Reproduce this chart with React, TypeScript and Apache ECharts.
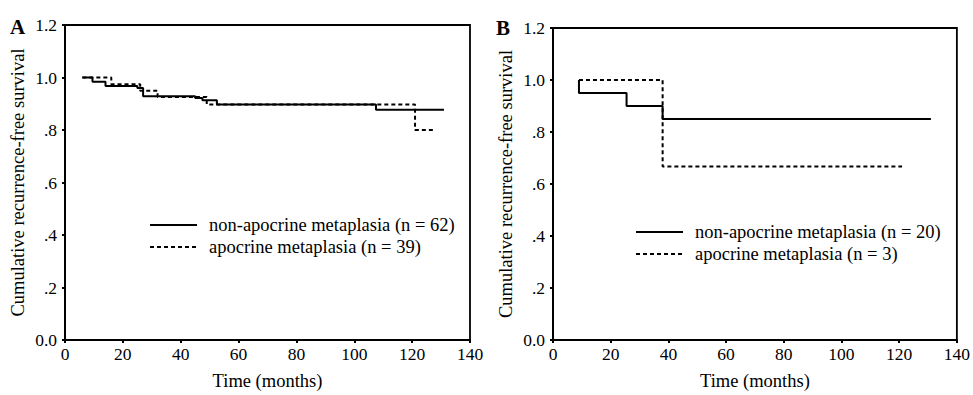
import { useEffect, useRef } from "react";
import * as echarts from "echarts";

// Kaplan–Meier curves: [time in months, cumulative recurrence-free survival]
const nonApocrineA: [number, number][] = [
  [6, 1.0], [9.5, 0.984], [14, 0.968], [25, 0.96], [27, 0.929], [45, 0.922],
  [47.5, 0.913], [52.5, 0.897], [107.5, 0.877], [131, 0.877],
];
const apocrineA: [number, number][] = [
  [6, 1.0], [16, 0.974], [26, 0.95], [32, 0.926], [49, 0.897], [121, 0.8], [128, 0.8],
];
const nonApocrineB: [number, number][] = [
  [9, 1.0], [9, 0.95], [25.5, 0.9], [38, 0.85], [131, 0.85],
];
const apocrineB: [number, number][] = [
  [9, 1.0], [38, 0.667], [121, 0.667],
];

const legendA = ["non-apocrine metaplasia (n = 62)", "apocrine metaplasia (n = 39)"];
const legendB = ["non-apocrine metaplasia (n = 20)", "apocrine metaplasia (n = 3)"];
const panelLetters = ["A", "B"];
const xTitle = "Time (months)";
const yTitle = "Cumulative recurrence-free survival";

const INK = "#000";
const FONT = '"Liberation Serif", "Times New Roman", serif';
const DASH = [4, 3];

function survivalLabel(v: number): string {
  if (v === 0) return "0.0";
  const s = v.toFixed(1);
  return v < 1 ? s.replace(/^0/, "") : s;
}

const grids = [
  { left: 65, top: 25, width: 405, height: 318 },
  { left: 553, top: 28, width: 405, height: 316 },
];

export default function App() {
  const ref = useRef<HTMLDivElement>(null);

  useEffect(() => {
    if (!ref.current) return;
    const chart = echarts.init(ref.current, null, { renderer: "svg" });

    const xAxes = grids.map((_, i) => ({
      type: "value" as const,
      gridIndex: i,
      min: 0,
      max: 140,
      interval: 20,
      name: xTitle,
      nameLocation: "middle" as const,
      nameGap: 31,
      nameTextStyle: { fontFamily: FONT, fontSize: 18.5, color: INK },
      axisLine: { show: true, lineStyle: { color: INK, width: 2 } },
      axisTick: { show: true, inside: false, length: 3, lineStyle: { color: INK, width: 2 } },
      axisLabel: { margin: 5, fontFamily: FONT, fontSize: 17.5, color: INK },
      splitLine: { show: false },
    }));

    const yAxes = grids.map((_, i) => ({
      type: "value" as const,
      gridIndex: i,
      min: 0,
      max: 1.2,
      interval: 0.2,
      name: yTitle,
      nameLocation: "middle" as const,
      nameGap: 38,
      nameTextStyle: { fontFamily: FONT, fontSize: 18.5, color: INK },
      axisLine: { show: true, lineStyle: { color: INK, width: 2 } },
      axisTick: { show: true, inside: false, length: 3, lineStyle: { color: INK, width: 2 } },
      axisLabel: { margin: 8, fontFamily: FONT, fontSize: 17.5, color: INK, formatter: survivalLabel },
      splitLine: { show: false },
    }));

    const curve = (data: [number, number][], idx: number, dashed: boolean) => ({
      type: "line" as const,
      xAxisIndex: idx,
      yAxisIndex: idx,
      data,
      step: "end" as const,
      showSymbol: false,
      silent: true,
      lineStyle: { color: INK, width: 2, type: dashed ? DASH : "solid" },
    });

    const legendRows = (labels: string[], x: number, y: number) =>
      labels.flatMap((label, r) => [
        {
          type: "line",
          shape: { x1: x, y1: y + r * 22, x2: x + 47, y2: y + r * 22 },
          style: { stroke: INK, lineWidth: 1.8, lineDash: r === 1 ? DASH : undefined },
        },
        {
          type: "text",
          x: x + 59,
          y: y + r * 22,
          style: { text: label, fontFamily: FONT, fontSize: 18.5, fill: INK, verticalAlign: "middle" },
        },
      ]);

    chart.setOption({
      animation: false,
      backgroundColor: "#fff",
      grid: grids.map((g) => ({ ...g, show: true, borderColor: INK, borderWidth: 1.8, backgroundColor: "transparent" })),
      xAxis: xAxes,
      yAxis: yAxes,
      series: [
        curve(nonApocrineA, 0, false),
        curve(apocrineA, 0, true),
        curve(nonApocrineB, 1, false),
        curve(apocrineB, 1, true),
      ],
      graphic: [
        {
          type: "text",
          x: 10,
          y: 16,
          style: { text: panelLetters[0], fontFamily: FONT, fontSize: 21, fontWeight: "bold", fill: INK },
        },
        {
          type: "text",
          x: 496,
          y: 17,
          style: { text: panelLetters[1], fontFamily: FONT, fontSize: 21, fontWeight: "bold", fill: INK },
        },
        ...legendRows(legendA, 150, 225),
        ...legendRows(legendB, 636, 232),
      ],
    });

    return () => chart.dispose();
  }, []);

  return (
    <div
      ref={ref}
      style={{ position: "absolute", left: 0, top: 0, width: 973, height: 395, background: "#fff" }}
    />
  );
}
